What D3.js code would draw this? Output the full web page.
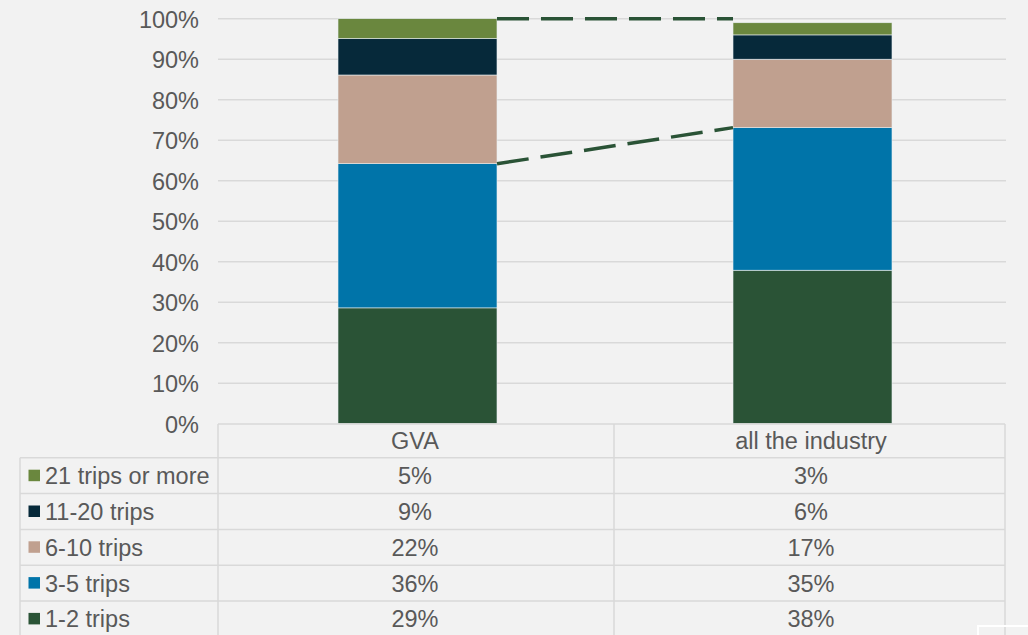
<!DOCTYPE html>
<html><head><meta charset="utf-8">
<script src="https://cdn.jsdelivr.net/npm/d3@7"></script>
<style>
html,body{margin:0;padding:0;background:#f2f2f2;}
svg{display:block;font-family:"Liberation Sans",Arial,sans-serif;}
</style></head>
<body><svg id="chart" width="1028" height="635"></svg>
<script>
// ---- data ----
const categories = ["GVA", "all the industry"];
const seriesNames = ["1-2 trips", "3-5 trips", "6-10 trips", "11-20 trips", "21 trips or more"];
const seriesColors = ["#2a5336", "#0074a9", "#c0a08f", "#06293a", "#6a873e"];
const gvaValues = [0.286, 0.356, 0.219, 0.090, 0.049];
const industryValues = [0.379, 0.352, 0.169, 0.060, 0.030];
const yTicks = [0, 0.1, 0.2, 0.3, 0.4, 0.5, 0.6, 0.7, 0.8, 0.9, 1.0];
const upperConnector = [1.0, 1.0];

const valuesByCat = [gvaValues, industryValues];

const svg = d3.select("#chart");
const W = 1028, H = 635;
const textColor = "#595959";
const gridColor = "#d9d9d9";
const fontSize = 23.5;

const y = d3.scaleLinear().domain([0, 1]).range([423.7, 18.7]);
const xBar = d3.scaleBand().domain(categories).range([220, 1010]).padding(0);
const xTab = d3.scaleBand().domain(categories).range([218, 1010]).padding(0);
const tableRight = 1005;
const barW = xBar.bandwidth() * 0.4025;
const barX = c => xBar(c) + (xBar.bandwidth() - barW) / 2;

// gridlines
svg.append("g").selectAll("line").data(yTicks.filter(d => d > 0)).join("line")
  .attr("x1", 218).attr("x2", 1006)
  .attr("y1", d => y(d)).attr("y2", d => y(d))
  .attr("stroke", gridColor).attr("stroke-width", 1.5);

// y axis labels
const yAxis = d3.axisLeft(y).tickValues(yTicks).tickFormat(d3.format(".0%")).tickSize(0).tickPadding(0);
const ya = svg.append("g").attr("transform", "translate(199,0)").call(yAxis);
ya.select(".domain").remove();
ya.selectAll("text").attr("fill", textColor).style("font-size", fontSize + "px")
  .style("font-family", '"Liberation Sans",Arial,sans-serif').attr("dy", "0.36em");

// stacked bars
const clip = v => Math.min(1, v);
const gBars = svg.append("g");
categories.forEach((c, ci) => {
  let cum = 0;
  valuesByCat[ci].forEach((v, si) => {
    const y0 = cum, y1 = cum + v; cum = y1;
    const top = clip(y1), bot = clip(y0);
    if (top <= bot) return;
    gBars.append("rect")
      .attr("x", barX(c)).attr("width", barW)
      .attr("y", y(top)).attr("height", y(bot) - y(top))
      .attr("fill", seriesColors[si])
      .attr("stroke", "#e8eef0").attr("stroke-width", 0.6);
  });
});

// connectors (dashed)
const cumTop = (vals, n) => d3.sum(vals.slice(0, n));
const lowerConnector = valuesByCat.map(v => cumTop(v, 2));
const lineGen = d3.line().x(d => d[0]).y(d => y(d[1]));
const pts = arr => [[barX(categories[0]) + barW, arr[0]], [barX(categories[1]), arr[1]]];
[lowerConnector, upperConnector].forEach(arr => {
  svg.append("path").attr("d", lineGen(pts(arr)))
    .attr("fill", "none").attr("stroke", "#2a5336").attr("stroke-width", 3.5)
    .attr("stroke-dasharray", "32,12");
});

// data table
const rowTop = 457.8, rowH = 35.8;
const headTop = 424;
const tg = svg.append("g");
tg.append("line").attr("x1", 218).attr("x2", tableRight).attr("y1", headTop).attr("y2", headTop)
  .attr("stroke", gridColor).attr("stroke-width", 1.5);
const rowsOrder = seriesNames.map((n, i) => i).reverse(); // 21+ first
const nRows = rowsOrder.length;
d3.range(nRows + 1).forEach(i => {
  tg.append("line").attr("x1", 20).attr("x2", tableRight)
    .attr("y1", rowTop + i * rowH).attr("y2", rowTop + i * rowH)
    .attr("stroke", gridColor).attr("stroke-width", 1.5);
});
tg.append("line").attr("x1", 20).attr("x2", 20).attr("y1", rowTop).attr("y2", H)
  .attr("stroke", gridColor).attr("stroke-width", 1.5);
[xTab(categories[0]), xTab(categories[1]), tableRight].forEach(xv => {
  tg.append("line").attr("x1", xv).attr("x2", xv).attr("y1", headTop).attr("y2", H)
    .attr("stroke", gridColor).attr("stroke-width", 1.5);
});
categories.forEach(c => {
  tg.append("text").attr("x", xTab(c) + xTab.bandwidth() / 2 - 1).attr("y", (headTop + rowTop) / 2)
    .attr("dy", "0.36em").attr("text-anchor", "middle").attr("fill", textColor)
    .style("font-size", fontSize + "px").text(c);
});
const pct = d3.format(".0%");
rowsOrder.forEach((si, ri) => {
  const cy = rowTop + ri * rowH + rowH / 2;
  tg.append("rect").attr("x", 28.5).attr("y", cy - 6).attr("width", 11.5).attr("height", 11.5)
    .attr("fill", seriesColors[si]);
  tg.append("text").attr("x", 45).attr("y", cy).attr("dy", "0.36em").attr("fill", textColor)
    .style("font-size", fontSize + "px").text(seriesNames[si]);
  categories.forEach((c, ci) => {
    tg.append("text").attr("x", xTab(c) + xTab.bandwidth() / 2 - 1).attr("y", cy).attr("dy", "0.36em")
      .attr("text-anchor", "middle").attr("fill", textColor)
      .style("font-size", fontSize + "px").text(pct(Math.round(valuesByCat[ci][si] * 100) / 100));
  });
});

// small white handle box at bottom right
svg.append("rect").attr("x", 978).attr("y", 626).attr("width", 60).attr("height", 20)
  .attr("fill", "none").attr("stroke", "#ffffff").attr("stroke-width", 2);
</script>
</body></html>
